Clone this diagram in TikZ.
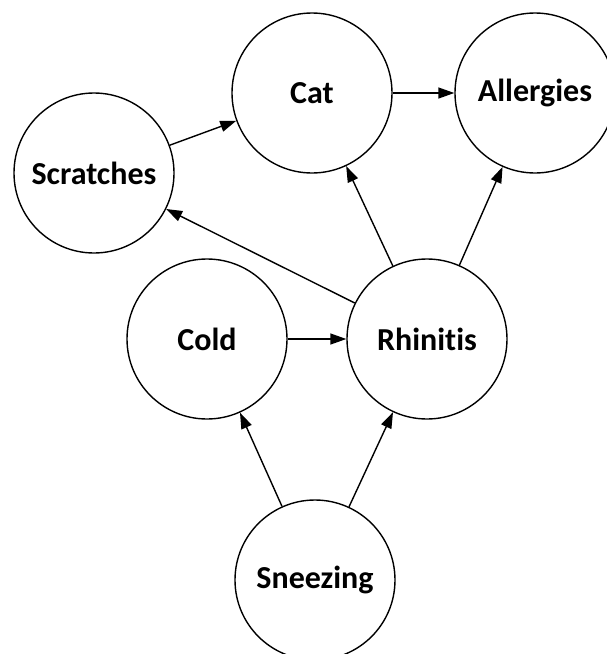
\documentclass[tikz,border=0pt]{standalone}
\usepackage{fontspec}
\setmainfont{Carlito}[Ligatures=NoCommon]
\usetikzlibrary{arrows.meta}
\begin{document}
\begin{tikzpicture}[x=1pt,y=-1pt,
  var/.style={circle,draw,line width=1.4pt,minimum size=160pt,inner sep=0pt,font=\fontsize{32}{38}\selectfont\bfseries},
  edge/.style={line width=1.4pt,-{Triangle[length=16pt,width=11pt]}}]
\useasboundingbox (0,0) rectangle (607,654);
\clip (0,0) rectangle (607,654);
\node[var] (cat) at (312,93) {Cat};
\node[var] (all) at (535,93) {Allergies};
\node[var] (scr) at (94,173) {Scratches};
\node[var] (cold) at (207,339) {Cold};
\node[var] (rhi) at (427,339) {Rhinitis};
\node[var] (snz) at (315,580) {Sneezing};
\draw[edge] (scr) -- (cat);
\draw[edge] (cat) -- (all);
\draw[edge] (rhi) -- (scr);
\draw[edge] (rhi) -- (cat);
\draw[edge] (rhi) -- (all);
\draw[edge] (cold) -- (rhi);
\draw[edge] (snz) -- (cold);
\draw[edge] (snz) -- (rhi);
\end{tikzpicture}
\end{document}
